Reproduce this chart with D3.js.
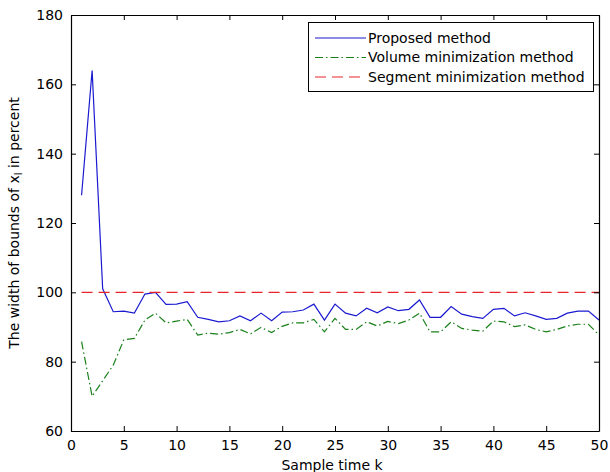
<!DOCTYPE html>
<html lang="en">
  <head>
    <meta charset="UTF-8" />
    <title>Width of bounds</title>
    <script src="https://cdn.jsdelivr.net/npm/d3@7"></script>
    <style>
      body {
        margin: 0;
        padding: 0;
        background: #fff;
        font-family: 'DejaVu Sans', sans-serif;
      }
      svg text {
        fill: #000;
      }
    </style>
  </head>

  <body>
    <script>
      // data
      const steps = d3.range(1, 51);
      const proposed = [
        128, 164, 101, 94.4, 94.6, 94, 99.5, 100, 96.5, 96.6,
        97.3, 92.8, 92.2, 91.5, 91.8, 93.2, 91.8, 94, 91.8, 94.3,
        94.4, 94.9, 96.6, 92, 96.6, 94, 93.2, 95.4, 94.1, 95.8,
        94.7, 95.1, 97.8, 92.8, 92.8, 95.9, 93.7, 93, 92.5, 95.1,
        95.4, 93.2, 94.1, 93.2, 92.2, 92.5, 94, 94.6, 94.6, 92
      ];
      const volume = [
        85.8, 70, 74.5, 79, 86.3, 86.7, 92, 94, 91.2, 91.7,
        92.2, 87.7, 88.2, 87.9, 88.4, 89.3, 88, 89.9, 88.4, 90.2,
        91.2, 91.2, 92.2, 88.6, 92.5, 89.3, 89.3, 91.5, 90.3, 91.6,
        91, 92, 94, 88.6, 88.6, 91.5, 89.6, 89.1, 88.8, 91.7,
        91.5, 90.1, 90.6, 89.3, 88.6, 89.3, 90.3, 90.8, 90.8, 87.7
      ];
      const segment = steps.map(() => 100);
      const xTicks = d3.range(0, 51, 5);
      const yTicks = d3.range(60, 181, 20);
      const seriesNames = ['Proposed method', 'Volume minimization method', 'Segment minimization method'];

      const width = 610;
      const height = 472;
      const margin = { left: 71, right: 11, top: 15, bottom: 41 };
      const font = "'DejaVu Sans', sans-serif";

      const svg = d3.select('body').append('svg').attr('width', width).attr('height', height);

      const x = d3.scaleLinear().domain([0, 50]).range([margin.left, width - margin.right]);
      const y = d3.scaleLinear().domain([60, 180]).range([height - margin.bottom, margin.top]);

      const series = [
        { name: seriesNames[0], values: proposed, color: '#1a1ad0', dash: null },
        { name: seriesNames[1], values: volume, color: '#1a801a', dash: '8,3,1.5,3' },
        { name: seriesNames[2], values: segment, color: '#e8242a', dash: '11,6' }
      ];

      const line = d3
        .line()
        .x((d, i) => x(steps[i]))
        .y((d) => y(d));

      // lines
      svg
        .selectAll('path.series')
        .data(series)
        .enter()
        .append('path')
        .attr('class', 'series')
        .attr('d', (s) => line(s.values))
        .attr('fill', 'none')
        .attr('stroke', (s) => s.color)
        .attr('stroke-width', 1.2)
        .attr('stroke-dasharray', (s) => s.dash);

      // axes, matlab style ticks inside on all four sides
      const fontSize = 14;
      const axBottom = svg.append('g').attr('transform', `translate(0,${y(60)})`)
        .call(d3.axisBottom(x).tickValues(xTicks).tickSizeInner(-5).tickSizeOuter(0).tickPadding(9));
      const axTop = svg.append('g').attr('transform', `translate(0,${y(180)})`)
        .call(d3.axisTop(x).tickValues(xTicks).tickSizeInner(-5).tickSizeOuter(0).tickFormat(''));
      const axLeft = svg.append('g').attr('transform', `translate(${x(0)},0)`)
        .call(d3.axisLeft(y).tickValues(yTicks).tickSizeInner(-5).tickSizeOuter(0).tickPadding(8));
      const axRight = svg.append('g').attr('transform', `translate(${x(50)},0)`)
        .call(d3.axisRight(y).tickValues(yTicks).tickSizeInner(-5).tickSizeOuter(0).tickFormat(''));

      [axBottom, axTop, axLeft, axRight].forEach((g) => {
        g.select('.domain').attr('stroke', '#000').attr('stroke-width', 1.2);
        g.selectAll('.tick line').attr('stroke', '#000');
        g.selectAll('.tick text')
          .attr('font-family', font)
          .attr('font-size', fontSize)
          .attr('fill', '#000');
      });

      // axis labels
      svg
        .append('text')
        .attr('x', 332)
        .attr('y', 470)
        .attr('text-anchor', 'middle')
        .attr('font-family', font)
        .attr('font-size', fontSize)
        .text('Sample time k');

      const ylab = svg
        .append('text')
        .attr('transform', `translate(19,${(y(60) + y(180)) / 2}) rotate(-90)`)
        .attr('text-anchor', 'middle')
        .attr('font-family', font)
        .attr('font-size', fontSize);
      ylab.append('tspan').text('The width of bounds  of x');
      ylab.append('tspan').attr('font-size', 10).attr('dy', 3).text('l');
      ylab.append('tspan').attr('dy', -3).text(' in percent');

      // legend
      const legend = svg.append('g');
      legend
        .append('rect')
        .attr('x', 308.5)
        .attr('y', 22.5)
        .attr('width', 285)
        .attr('height', 69)
        .attr('fill', '#fff')
        .attr('stroke', '#000')
        .attr('stroke-width', 1);

      const rows = legend
        .selectAll('g.row')
        .data(series)
        .enter()
        .append('g')
        .attr('class', 'row')
        .attr('transform', (d, i) => `translate(0,${38 + i * 19.5})`);

      rows
        .append('line')
        .attr('x1', 315)
        .attr('x2', 366)
        .attr('stroke', (d) => d.color)
        .attr('stroke-width', 1.2)
        .attr('stroke-dasharray', (d) => d.dash);

      rows
        .append('text')
        .attr('x', 368)
        .attr('dy', '0.35em')
        .attr('font-family', font)
        .attr('font-size', fontSize)
        .text((d) => d.name);
    </script>
  </body>
</html>
